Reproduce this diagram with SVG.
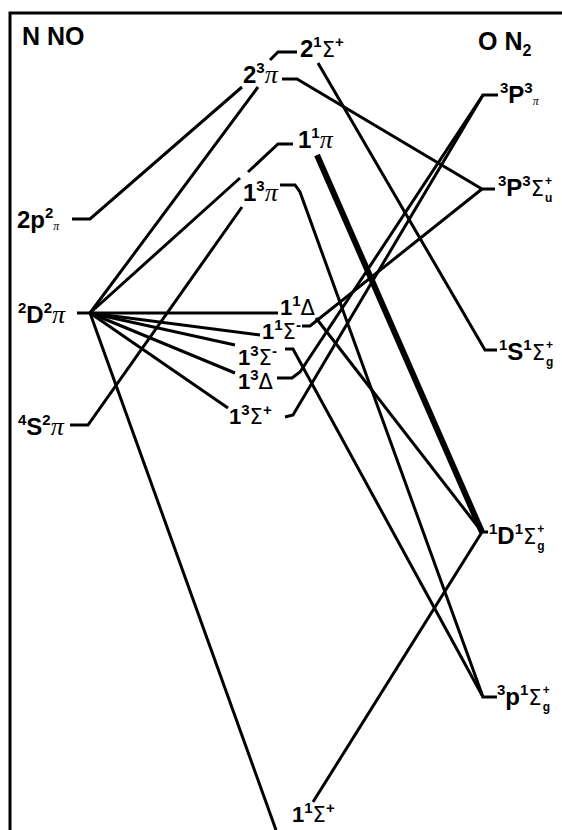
<svg xmlns="http://www.w3.org/2000/svg" width="562" height="830" viewBox="0 0 562 830">
<style>
.frame{fill:none;stroke:#000;stroke-width:3}
.ln{fill:none;stroke:#000;stroke-width:3;stroke-linecap:butt;stroke-linejoin:miter}
.thick{fill:none;stroke:#000;stroke-width:6}
.t{font-family:"Liberation Sans",Arial,sans-serif;font-weight:bold;font-size:24px;fill:#000}
.m{font-size:22px}
.h{font-family:"Liberation Sans",Arial,sans-serif;font-weight:bold;font-size:25px;fill:#000}
.sup{font-size:15px}
.sub{font-size:12px;font-weight:bold}
.g{font-family:"DejaVu Sans",sans-serif;font-weight:normal;font-size:21px}
.p{font-family:"Liberation Serif",serif;font-style:italic;font-weight:normal;font-size:26px}
.sm{font-size:12px}
</style>
<rect width="562" height="830" fill="#fff"/>
<path class="frame" d="M10,830 V13 H562"/>
<g id="connectors">
<polyline class="ln" points="72,219 90,219 242,87"/>
<polyline class="ln" points="270,60 278,52 297,52"/>
<polyline class="ln" points="77,313 90,313 258,87"/>
<polyline class="ln" points="282,79 297,79 482,189 495,189"/>
<polyline class="ln" points="90,313 240,178"/>
<polyline class="ln" points="248,172 278,144 293,144"/>
<polyline class="ln" points="70,425 88,425 242,207"/>
<polyline class="ln" points="280,185 295,185 300,192 483,697 497,697"/>
<line class="thick" x1="317" y1="155" x2="482" y2="532"/>
<polyline class="ln" points="318,63 485,350 497,350"/>
<line class="ln" x1="90" y1="313" x2="278" y2="313"/>
<line class="ln" x1="90" y1="313" x2="260" y2="335"/>
<line class="ln" x1="90" y1="313" x2="235" y2="345"/>
<line class="ln" x1="90" y1="313" x2="235" y2="373"/>
<line class="ln" x1="90" y1="313" x2="228" y2="408"/>
<line class="ln" x1="90" y1="313" x2="276" y2="830"/>
<polyline class="ln" points="313,802 482,532 488,532"/>
<polyline class="ln" points="277,378 292,378 300,372 483,95 498,95"/>
<polyline class="ln" points="285,417 293,415 483,95"/>
<polyline class="ln" points="302,326 310,326 482,189"/>
<polyline class="ln" points="285,349 293,349 483,697"/>
<line class="ln" x1="316" y1="318" x2="482" y2="532"/>
</g>
<g id="title-left"><text class="h" x="22" y="45">N NO</text></g>
<g id="title-right"><text class="h" x="478" y="50">O N<tspan font-size="16" dy="6">2</tspan></text></g>
<g id="n-2p2pi"><text class="t" x="17" y="228">2p<tspan class="sup" dy="-10">2</tspan><tspan class="p sm" dy="12">π</tspan></text></g>
<g id="n-2D2pi"><text class="t" x="18" y="323"><tspan class="sup" dy="-10">2</tspan><tspan dy="10">D</tspan><tspan class="sup" dy="-10">2</tspan><tspan class="p" dy="10">π</tspan></text></g>
<g id="n-4S2pi"><text class="t" x="18" y="435"><tspan class="sup" dy="-10">4</tspan><tspan dy="10">S</tspan><tspan class="sup" dy="-10">2</tspan><tspan class="p" dy="10">π</tspan></text></g>
<g id="n-21Sp"><text class="t" x="300" y="57">2<tspan class="sup" dy="-10">1</tspan><tspan class="g" dy="10">Σ</tspan><tspan class="sup" dy="-10">+</tspan></text></g>
<g id="n-23pi"><text class="t" x="243" y="83">2<tspan class="sup" dy="-10">3</tspan><tspan class="p" dy="10">π</tspan></text></g>
<g id="n-11pi"><text class="t" x="298" y="148">1<tspan class="sup" dy="-10">1</tspan><tspan class="p" dy="10">π</tspan></text></g>
<g id="n-13pi"><text class="t" x="243" y="201">1<tspan class="sup" dy="-10">3</tspan><tspan class="p" dy="10">π</tspan></text></g>
<g id="n-11D"><text class="t m" x="280" y="315">1<tspan class="sup" dy="-9">1</tspan><tspan class="g" dy="9">Δ</tspan></text></g>
<g id="n-11Sm"><text class="t m" x="262" y="339">1<tspan class="sup" dy="-9">1</tspan><tspan class="g" dy="9">Σ</tspan><tspan class="sup" dy="-9">-</tspan></text></g>
<g id="n-13Sm"><text class="t m" x="238" y="365">1<tspan class="sup" dy="-9">3</tspan><tspan class="g" dy="9">Σ</tspan><tspan class="sup" dy="-9">-</tspan></text></g>
<g id="n-13D"><text class="t m" x="238" y="389">1<tspan class="sup" dy="-9">3</tspan><tspan class="g" dy="9">Δ</tspan></text></g>
<g id="n-13Sp"><text class="t m" x="229" y="424">1<tspan class="sup" dy="-9">3</tspan><tspan class="g" dy="9">Σ</tspan><tspan class="sup" dy="-9">+</tspan></text></g>
<g id="n-11Sp"><text class="t m" x="292" y="822">1<tspan class="sup" dy="-9">1</tspan><tspan class="g" dy="9">Σ</tspan><tspan class="sup" dy="-9">+</tspan></text></g>
<g id="n-3P3pi"><text class="t" x="500" y="103"><tspan class="sup" dy="-10">3</tspan><tspan dy="10">P</tspan><tspan class="sup" dy="-10">3</tspan><tspan class="p sm" dy="12">π</tspan></text></g>
<g id="n-3P3Su"><text class="t" x="498" y="196"><tspan class="sup" dy="-10">3</tspan><tspan dy="10">P</tspan><tspan class="sup" dy="-10">3</tspan><tspan class="g" dy="10">Σ</tspan><tspan class="sub" dx="1" dy="-11">+</tspan><tspan class="sub" dx="-7" dy="17">u</tspan></text></g>
<g id="n-1S1Sg"><text class="t" x="499" y="360"><tspan class="sup" dy="-10">1</tspan><tspan dy="10">S</tspan><tspan class="sup" dy="-10">1</tspan><tspan class="g" dy="10">Σ</tspan><tspan class="sub" dx="1" dy="-11">+</tspan><tspan class="sub" dx="-7" dy="17">g</tspan></text></g>
<g id="n-1D1Sg"><text class="t" x="489" y="544"><tspan class="sup" dy="-10">1</tspan><tspan dy="10">D</tspan><tspan class="sup" dy="-10">1</tspan><tspan class="g" dy="10">Σ</tspan><tspan class="sub" dx="1" dy="-11">+</tspan><tspan class="sub" dx="-7" dy="17">g</tspan></text></g>
<g id="n-3p1Sg"><text class="t" x="497" y="705"><tspan class="sup" dy="-10">3</tspan><tspan dy="10">p</tspan><tspan class="sup" dy="-10">1</tspan><tspan class="g" dy="10">Σ</tspan><tspan class="sub" dx="1" dy="-11">+</tspan><tspan class="sub" dx="-7" dy="17">g</tspan></text></g>
</svg>
